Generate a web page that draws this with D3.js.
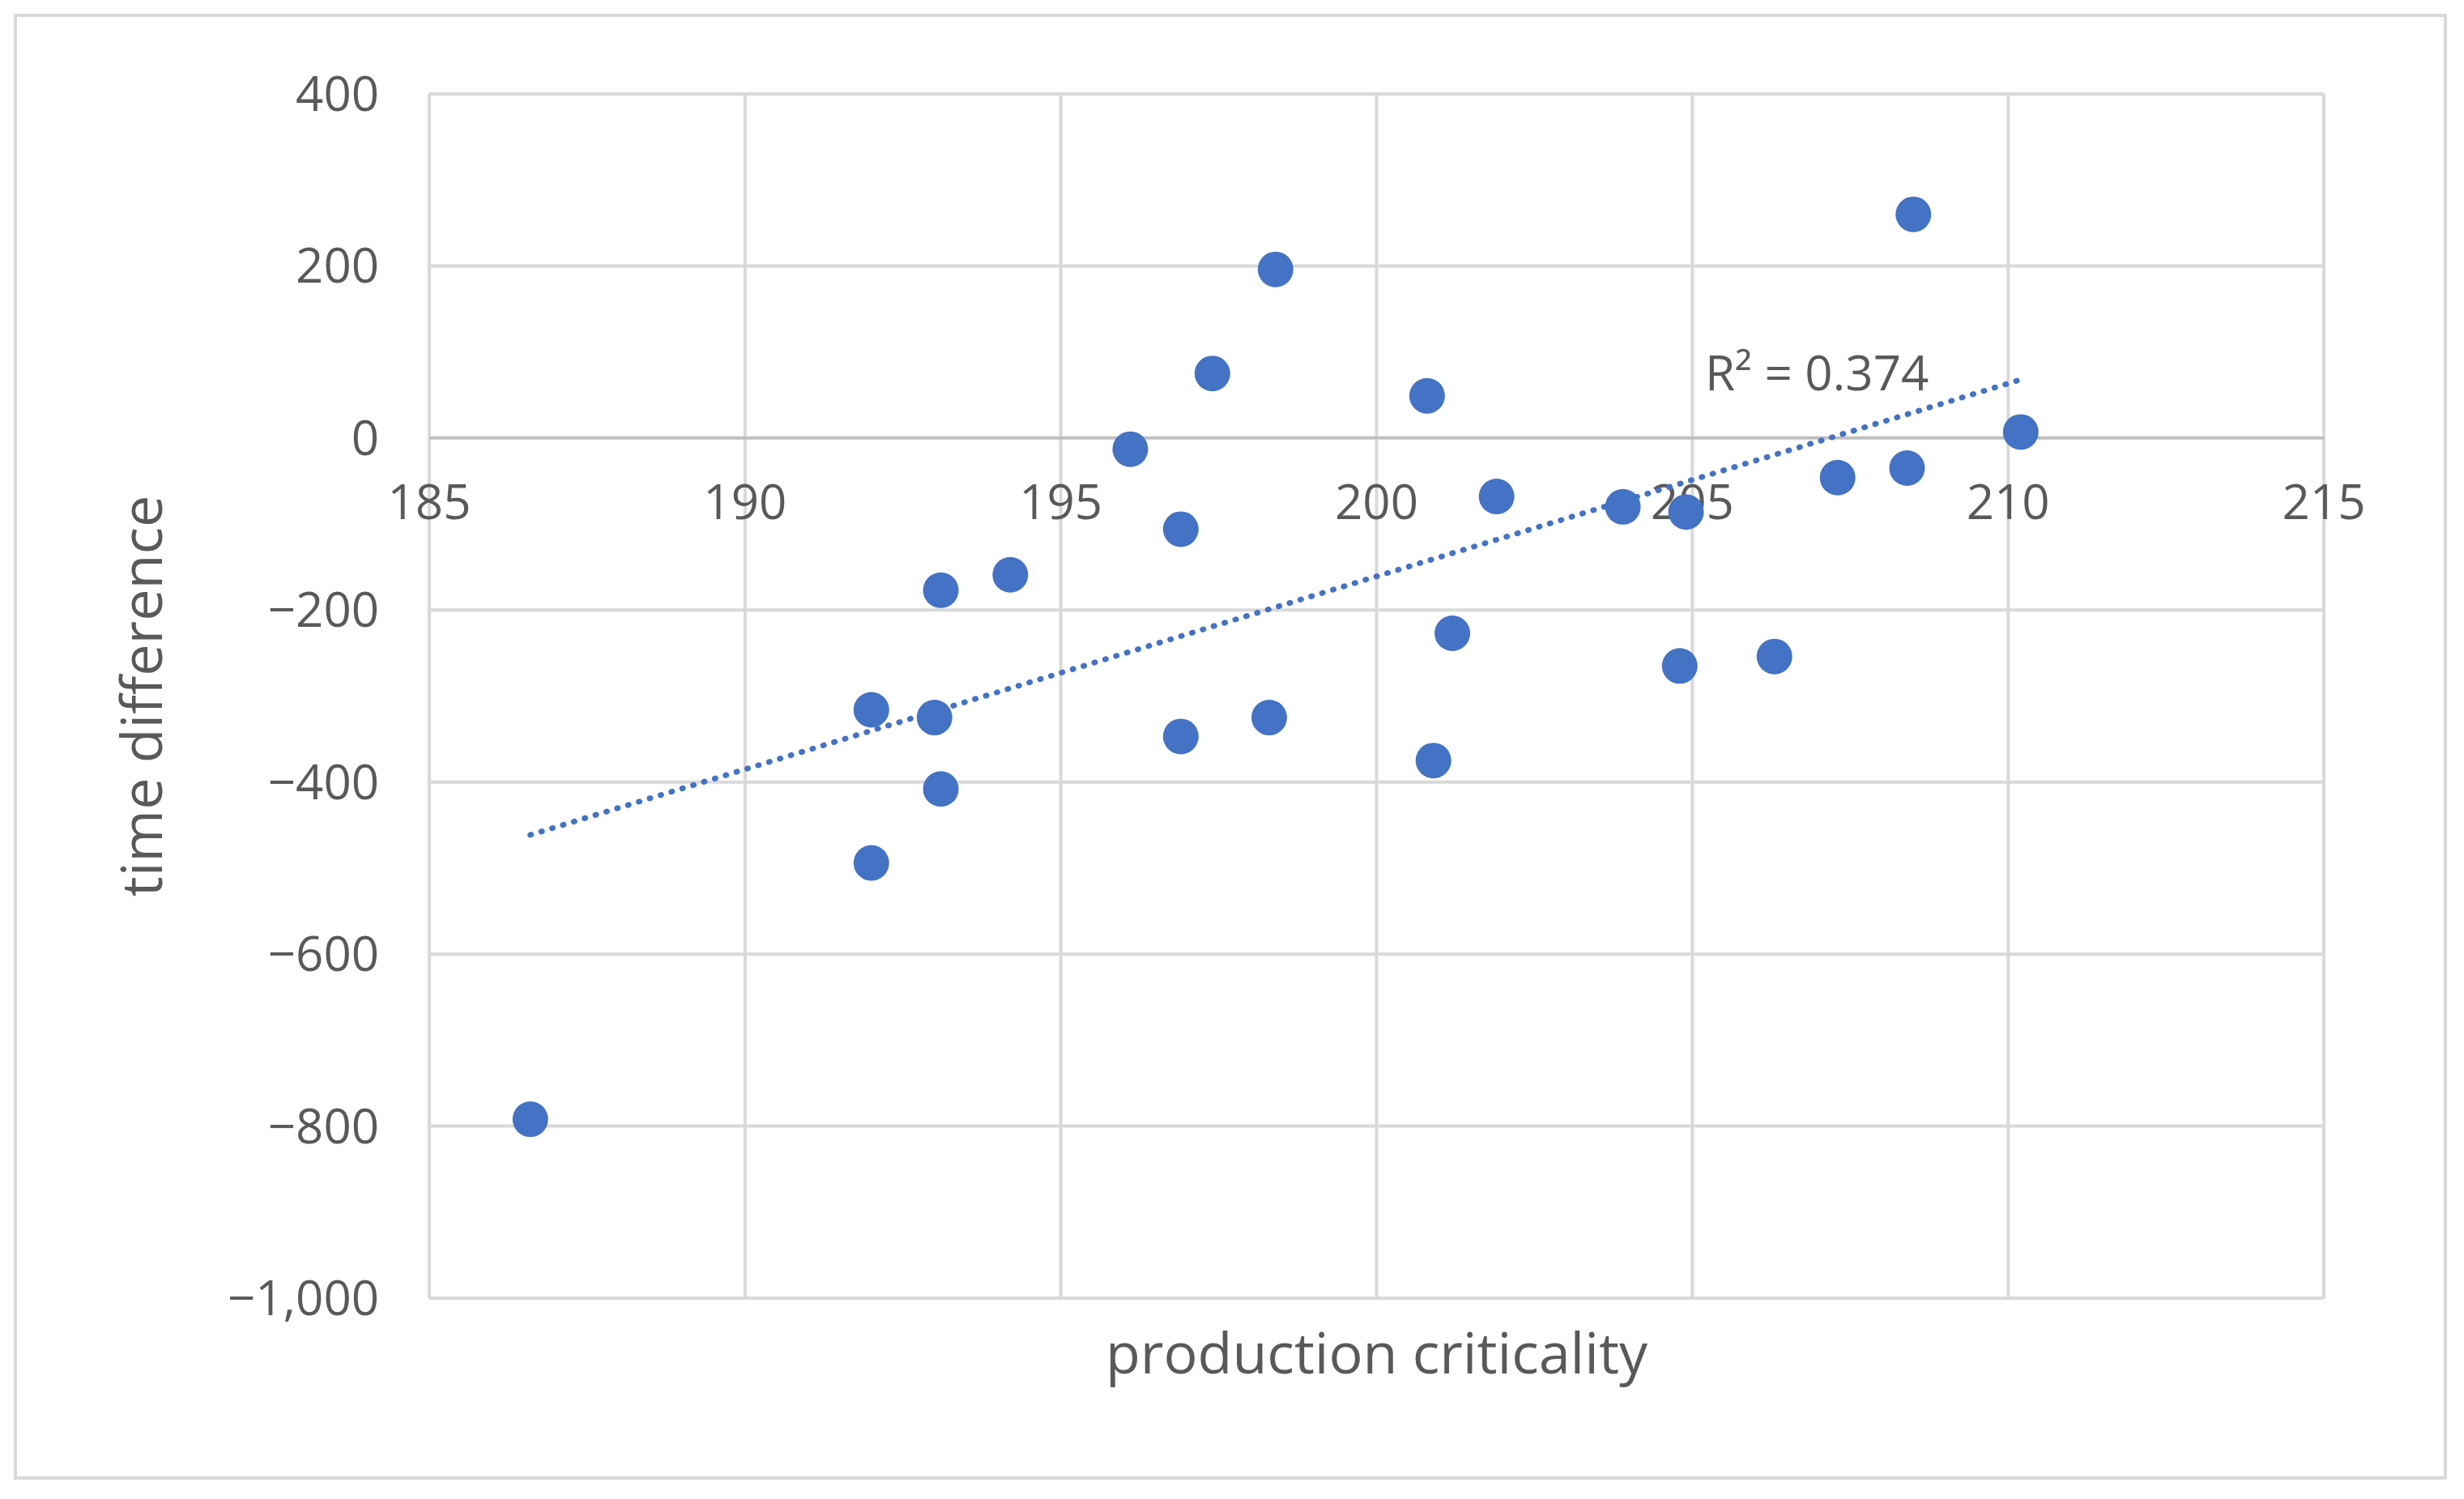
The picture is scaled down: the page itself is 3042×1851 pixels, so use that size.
<!DOCTYPE html>
<html><head><meta charset="utf-8">
<script src="https://cdn.jsdelivr.net/npm/d3@7"></script>
<style>body{margin:0;background:#fff}</style>
</head><body>
<script>
// data
var xVals = [186.6,192.0,192.0,193.0,193.1,193.1,194.2,196.1,196.9,196.9,197.4,198.4,198.3,200.8,200.9,201.2,201.9,203.9,204.9,204.8,206.3,207.3,208.4,208.5,210.2];
var yVals = [-792,-316,-494,-325,-177,-408,-159,-13,-106,-347,75,196,-325,49,-375,-227,-68,-80,-86,-265,-254,-46,-35,260,7];
var xTicks = [185,190,195,200,205,210,215];
var yTicks = [400,200,0,-200,-400,-600,-800,-1000];

var W = 3042, H = 1851;
var margin = {top: 116, right: 173, bottom: 248, left: 530};
var width = W - margin.left - margin.right,
    height = H - margin.top - margin.bottom;

var svg = d3.select("body").append("svg")
    .attr("width", W).attr("height", H)
    .style("font-family", "'Open Sans', 'Noto Sans', sans-serif");

svg.append("rect").attr("x", 19).attr("y", 19).attr("width", 3000).attr("height", 1806)
    .attr("fill", "#fff").attr("stroke", "#d9d9d9").attr("stroke-width", 4);

var g = svg.append("g").attr("transform", "translate(" + margin.left + "," + margin.top + ")");

var x = d3.scaleLinear().domain([185, 215]).range([0, width]);
var y = d3.scaleLinear().domain([-1000, 400]).range([height, 0]);

// grid
g.selectAll(".vg").data(xTicks).enter().append("line")
    .attr("x1", d => x(d)).attr("x2", d => x(d)).attr("y1", 0).attr("y2", height)
    .attr("stroke", "#d9d9d9").attr("stroke-width", 4);
g.selectAll(".hg").data(yTicks).enter().append("line")
    .attr("x1", 0).attr("x2", width).attr("y1", d => y(d)).attr("y2", d => y(d))
    .attr("stroke", d => d === 0 ? "#bfbfbf" : "#d9d9d9").attr("stroke-width", 4);

// tick labels
var fmt = d3.format(",");
g.selectAll(".yl").data(yTicks).enter().append("text")
    .attr("x", -62).attr("y", d => y(d)).attr("dy", "0.35em")
    .attr("text-anchor", "end").attr("font-size", 60).attr("fill", "#595959")
    .text(d => fmt(d).replace("-", "\u2212"));
g.selectAll(".xl").data(xTicks).enter().append("text")
    .attr("x", d => x(d)).attr("y", y(0) + 100)
    .attr("text-anchor", "middle").attr("font-size", 60).attr("fill", "#595959")
    .text(d => d);

// trendline (least squares)
var mx = d3.mean(xVals), my = d3.mean(yVals);
var sxy = d3.sum(xVals, (v, i) => (v - mx) * (yVals[i] - my));
var sxx = d3.sum(xVals, v => (v - mx) * (v - mx));
var b = sxy / sxx, a = my - b * mx;
var x0 = d3.min(xVals), x1 = d3.max(xVals);
g.append("line")
    .attr("x1", x(x0)).attr("y1", y(a + b * x0))
    .attr("x2", x(x1)).attr("y2", y(a + b * x1))
    .attr("stroke", "#4472c4").attr("stroke-width", 7)
    .attr("stroke-dasharray", "1,13").attr("stroke-linecap", "round");

// points
g.selectAll(".pt").data(xVals).enter().append("circle")
    .attr("cx", d => x(d)).attr("cy", (d, i) => y(yVals[i])).attr("r", 22)
    .attr("fill", "#4472c4");

g.append("text").attr("x", x(205.2)).attr("y", y(55))
    .attr("font-size", 60).attr("fill", "#595959").text("R² = 0.374");

// axis titles
svg.append("text").attr("x", margin.left + width / 2).attr("y", 1696)
    .attr("text-anchor", "middle").attr("font-size", 70).attr("fill", "#595959")
    .text("production criticality");
svg.append("text").attr("transform", "translate(200," + (margin.top + height / 2) + ") rotate(-90)")
    .attr("text-anchor", "middle").attr("font-size", 70).attr("fill", "#595959")
    .text("time difference");
</script>
</body></html>
